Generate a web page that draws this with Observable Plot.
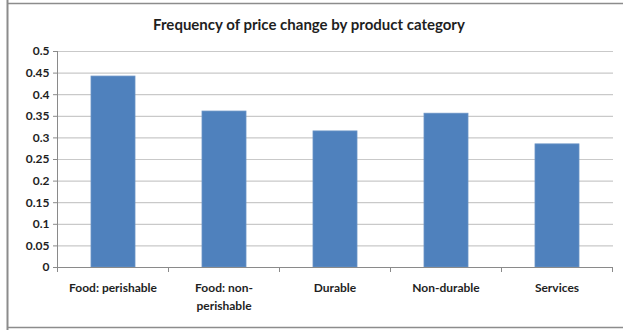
<!DOCTYPE html>
<html>
<head>
<meta charset="utf-8">
<script src="https://cdn.jsdelivr.net/npm/d3@7"></script>
<script src="https://cdn.jsdelivr.net/npm/@observablehq/plot@0.6"></script>
<style>
  html, body { margin: 0; padding: 0; background: #fff; }
  #chart svg { display: block; }
</style>
</head>
<body>
<div id="chart"></div>
<script>
// Frequency of price change, by product category
const title = "Frequency of price change by product category";
const categories = ["Food: perishable", "Food: non-perishable", "Durable", "Non-durable", "Services"];
const labelLines = [["Food: perishable"], ["Food: non-", "perishable"], ["Durable"], ["Non-durable"], ["Services"]];
const frequency = [0.442, 0.361, 0.315, 0.356, 0.285];
const yTicks = [0, 0.05, 0.1, 0.15, 0.2, 0.25, 0.3, 0.35, 0.4, 0.45, 0.5];

const data = categories.map((c, i) => ({category: c, value: frequency[i], lines: labelLines[i]}));

const W = 623, H = 330;
const font = "Lato, 'Open Sans', sans-serif";
const gridColor = "#c9c9c9";
const axisColor = "#8a8a8a";
const textColor = "#1f1f1f";

const chart = Plot.plot({
  width: W,
  height: H,
  marginLeft: 58,
  marginRight: 10,
  marginTop: 51,
  marginBottom: 63,
  style: {fontFamily: font, fontSize: "12px", fontWeight: "bold", color: textColor, background: "#fff"},
  x: {domain: categories, paddingInner: 0.6, paddingOuter: 0.3, axis: null, label: null},
  y: {domain: [0, 0.5], ticks: yTicks, axis: null, label: null},
  marks: [
    Plot.gridY(yTicks.filter(t => t > 0), {stroke: gridColor, strokeOpacity: 1, strokeWidth: 1.2}),
    Plot.barY(data, {x: "category", y: "value", fill: "#4f81bd", stroke: "#6a93c6", strokeWidth: 0.8}),
    Plot.ruleY([0], {stroke: axisColor, strokeWidth: 1}),
    Plot.axisY(yTicks, {
      tickSize: 5, stroke: axisColor, tickPadding: 4, label: null,
      tickFormat: d => String(d), fill: textColor, fontSize: 12, fontWeight: "bold"
    })
  ]
});

const svg = d3.select(chart);
const xs = chart.scale("x");
const ys = chart.scale("y");
const y0 = ys.apply(0), yTop = ys.apply(0.5);

// boundaries between categories on the x axis
const bounds = [];
categories.forEach((c, i) => {
  const left = xs.apply(c) - (xs.step - xs.bandwidth) / 2;
  bounds.push(left);
  if (i === categories.length - 1) bounds.push(left + xs.step);
});

// y axis line
svg.append("line")
  .attr("x1", bounds[0]).attr("x2", bounds[0])
  .attr("y1", yTop).attr("y2", y0)
  .attr("stroke", axisColor).attr("stroke-width", 1);

// x axis tick marks at category boundaries
svg.append("g").selectAll("line").data(bounds).join("line")
  .attr("x1", d => d).attr("x2", d => d)
  .attr("y1", y0).attr("y2", y0 + 5)
  .attr("stroke", axisColor).attr("stroke-width", 1);

// category labels, wrapped as in the source table
const lab = svg.append("g")
  .attr("font-family", font).attr("font-size", 12).attr("font-weight", "bold")
  .attr("fill", textColor).attr("text-anchor", "middle");
data.forEach(d => {
  const cx = xs.apply(d.category) + xs.bandwidth / 2;
  d.lines.forEach((line, j) => {
    lab.append("text").attr("x", cx).attr("y", y0 + 25 + j * 18).text(line);
  });
});

// title
svg.append("text")
  .attr("x", 309).attr("y", 30)
  .attr("text-anchor", "middle")
  .attr("font-family", font).attr("font-size", 15).attr("font-weight", "bold")
  .attr("fill", textColor)
  .text(title);

// outer frame
const frame = svg.append("g").attr("stroke", "#8c8c8c").attr("fill", "none");
frame.append("line").attr("x1", 7).attr("x2", W).attr("y1", 3.5).attr("y2", 3.5).attr("stroke-width", 1.5);
frame.append("line").attr("x1", 7).attr("x2", W).attr("y1", 327.5).attr("y2", 327.5).attr("stroke-width", 1.5);
frame.append("line").attr("x1", 7.5).attr("x2", 7.5).attr("y1", 0).attr("y2", H).attr("stroke-width", 2);

document.getElementById("chart").appendChild(chart);
</script>
</body>
</html>
